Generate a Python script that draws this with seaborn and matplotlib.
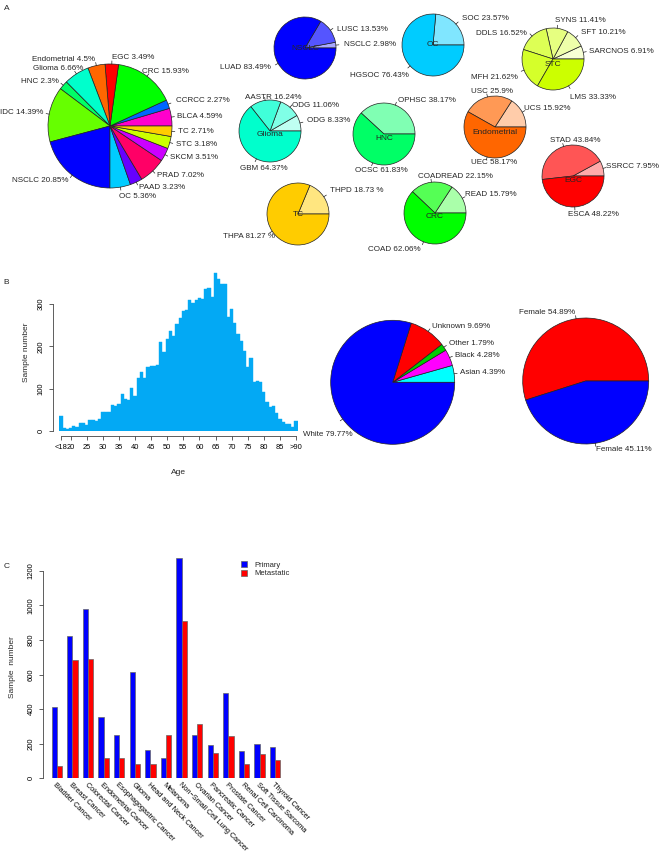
import numpy as np
import pandas as pd
import seaborn as sns
import matplotlib.pyplot as plt
import matplotlib.colors as mcolors
from matplotlib.patches import Patch

W, H = 660, 852   # figure size in pixels (dpi 100)

#######################  DATA  #######################

# panel A - overall cancer type share
main_names = ['BLCA', 'CCRCC', 'CRC', 'EGC', 'Endometrial', 'Glioma', 'HNC', 'IDC',
              'NSCLC', 'OC', 'PAAD', 'PRAD', 'SKCM', 'STC', 'TC']
main_pct = [4.59, 2.27, 15.93, 3.49, 4.5, 6.66, 2.3, 14.39, 20.85, 5.36, 3.23, 7.02, 3.51, 3.18, 2.71]
main_colors = ['#FF00CC', '#0066FF', '#00FF00', '#FF0000', '#FF6600', '#00FFCC', '#00FF66', '#66FF00',
               '#0000FF', '#00CCFF', '#6600FF', '#FF0066', '#CC00FF', '#CCFF00', '#FFCC00']

# panel A - subtypes (ascending share)
nsclc_names, nsclc_pct = ['NSCLC', 'LUSC', 'LUAD'], [2.98, 13.53, 83.49]
oc_names, oc_pct = ['SOC', 'HGSOC'], [23.57, 76.43]
stc_names = ['SARCNOS', 'SFT', 'SYNS', 'DDLS', 'MFH', 'LMS']
stc_pct = [6.91, 10.21, 11.41, 16.52, 21.62, 33.33]
glioma_names, glioma_pct = ['ODG', 'ODG', 'AASTR', 'GBM'], [8.33, 11.06, 16.24, 64.37]
hnc_names, hnc_pct = ['OPHSC', 'OCSC'], [38.17, 61.83]
endo_names, endo_pct = ['UCS', 'USC', 'UEC'], [15.92, 25.9, 58.17]
egc_names, egc_pct = ['SSRCC', 'STAD', 'ESCA'], [7.95, 43.84, 48.22]
tc_names, tc_pct = ['THPD', 'THPA'], [18.73, 81.27]
crc_names, crc_pct = ['READ', 'COADREAD', 'COAD'], [15.79, 22.15, 62.06]

# panel B - age histogram
age_bins = ['<18'] + [str(a) for a in range(18, 90)] + ['>90']
age_counts = [35, 8, 5, 8, 11, 9, 19, 19, 15, 25, 25, 24, 29, 46, 44, 45, 62, 59, 63, 88,
              75, 74, 102, 82, 126, 139, 125, 151, 154, 153, 156, 209, 187, 217, 237, 225, 252, 266, 284, 286,
              310, 302, 310, 315, 311, 334, 338, 317, 372, 358, 346, 347, 268, 289, 256, 228, 212, 189, 151, 172,
              116, 118, 116, 92, 69, 57, 60, 42, 28, 21, 16, 17, 9, 24]
age_ticks = ['<18', '20', '25', '30', '35', '40', '45', '50', '55', '60', '65', '70', '75', '80', '85', '>90']

# panel B - race and sex
race_names = ['Asian', 'Black', 'Other', 'Unknown', 'White']
race_pct = [4.39, 4.28, 1.79, 9.69, 79.77]
race_colors = ['#00FFFF', '#FF00FF', '#00CD00', '#FF0000', '#0000FF']
sex_names = ['Female', 'Female']
sex_pct = [54.89, 45.11]
sex_colors = ['#FF0000', '#0000FF']

# panel C - primary vs metastatic
cancers = ['Bladder Cancer', 'Breast Cancer', 'Colorectal Cancer', 'Endometrial Cancer',
           'Esophagogastric Cancer', 'Glioma', 'Head and Neck Cancer', 'Melanoma',
           'Non\u2212Small Cell Lung Cancer', 'Ovarian Cancer', 'Pancreatic Cancer', 'Prostate Cancer',
           'Renal Cell Carcinoma', 'Soft Tissue Sarcoma', 'Thyroid Cancer']
primary = [410, 823, 981, 355, 252, 617, 162, 119, 1275, 249, 195, 495, 156, 198, 181]
metastatic = [71, 684, 690, 118, 116, 81, 81, 250, 911, 314, 148, 243, 83, 139, 104]

HIST_BLUE = '#03A9F4'
EDGE = '#222222'


#######################  HELPERS  #######################


def ramp(base: str, n: int) -> list:
    # white -> base colour in n+1 steps, white dropped (lightest first)
    rgb = np.array(mcolors.to_rgb(base))
    return [tuple(1 - (1 - rgb) * k / n) for k in range(1, n + 1)]


def draw_pie(ax, cx, cy, r, pct, labels, colors, lab_r=1.1, line_r=1.05, fs=5.8, nudge=None):
    # R-style pie: starts at 3 o'clock, counter clockwise, labels with a short tick
    # nudge: {slice index: (dx, dy)} in pixels, dy pointing down
    Y = H - cy
    ax.pie(pct, colors=colors, radius=r, center=(cx, Y), startangle=0, counterclock=True,
           wedgeprops=dict(edgecolor=EDGE, linewidth=0.5), normalize=True)
    frac = np.cumsum([0] + list(pct)) / sum(pct)
    for i, lab in enumerate(labels):
        a = np.pi * (frac[i] + frac[i + 1])
        c, s = np.cos(a), np.sin(a)
        ax.plot([cx + r * c, cx + line_r * r * c], [Y + r * s, Y + line_r * r * s], color=EDGE, lw=0.5)
        dx, dy = (nudge or {}).get(i, (0, 0))
        ax.text(cx + lab_r * r * c + dx, Y + lab_r * r * s - dy, lab,
                ha='left' if c >= 0 else 'right', va='center', fontsize=fs)


def pct_labels(names, pct, sep='%'):
    return [f'{n} {p}{sep}' for n, p in zip(names, pct)]


#######################  FIGURE  #######################

sns.set_style('ticks')
plt.rcParams['font.family'] = ['Liberation Sans', 'DejaVu Sans']
plt.rcParams['axes.linewidth'] = 0.6
plt.rcParams['axes.edgecolor'] = '#444444'
plt.rcParams['xtick.color'] = '#444444'
plt.rcParams['ytick.color'] = '#444444'
plt.rcParams['xtick.labelcolor'] = 'black'
plt.rcParams['ytick.labelcolor'] = 'black'

fig = plt.figure(figsize=(W / 100, H / 100), dpi=100)

# ---- panel B: age histogram ----
ax_h = fig.add_axes([59.4 / W, (H - 431) / H, 238.2 / W, (431 - 270) / H])
sns.barplot(x=age_bins, y=age_counts, color=HIST_BLUE, width=1.0, saturation=1,
            linewidth=0.3, edgecolor=HIST_BLUE, errorbar=None, ax=ax_h)
ax_h.set_xlim(-0.5, 73.5)
ax_h.set_ylim(0, 380)
ax_h.spines[['top', 'right']].set_visible(False)
ax_h.spines['left'].set_position(('outward', 4.6))
ax_h.spines['left'].set_bounds(0, 300)
ax_h.spines['bottom'].set_position(('outward', 3.6))
ax_h.spines['bottom'].set_bounds(0, 73)
ax_h.set_xticks([age_bins.index(t) for t in age_ticks])
ax_h.set_xticklabels(age_ticks, fontsize=5.4)
ax_h.set_yticks([0, 100, 200, 300])
ax_h.set_yticklabels(['0', '100', '200', '300'], fontsize=5.5, rotation=90, va='center')
ax_h.tick_params(length=3, width=0.6, pad=3)
ax_h.set_xlabel('')
ax_h.set_ylabel('')
fig.text(178 / W, 1 - 472 / H, 'Age', ha='center', va='center', fontsize=6)
fig.text(27 / W, 1 - 352 / H, 'Sample number', ha='center', va='center', rotation=90, fontsize=6)

# ---- panel C: primary vs metastatic ----
df = pd.DataFrame({
    'cancer': cancers * 2,
    'count': primary + metastatic,
    'type': ['Primary'] * len(cancers) + ['Metastatic'] * len(cancers),
})
pal = {'Primary': '#0000FF', 'Metastatic': '#FF0000'}
ax_c = fig.add_axes([45.2 / W, (H - 778.3) / H, (281.5 - 45.2) / W, (778.3 - 555) / H])
sns.barplot(data=df, x='cancer', y='count', hue='type', palette=pal, width=0.667, saturation=1,
            edgecolor='#666666', linewidth=0.5, errorbar=None, legend=False, ax=ax_c)
ax_c.set_xlim(-0.75, 14.4)
ax_c.set_ylim(0, (778.3 - 555) / 0.173)
ax_c.spines[['top', 'right', 'bottom']].set_visible(False)
ax_c.spines['left'].set_position(('outward', 1.4))
ax_c.spines['left'].set_bounds(0, 1200)
ax_c.set_yticks(range(0, 1201, 200))
ax_c.set_yticklabels([str(v) for v in range(0, 1201, 200)], fontsize=5.5, rotation=90, va='center')
ax_c.tick_params(axis='y', length=3, width=0.6, pad=3)
ax_c.set_xticks(range(len(cancers)))
ax_c.set_xticklabels(cancers, rotation=-45, ha='left', va='top', rotation_mode='anchor', fontsize=5.3)
ax_c.tick_params(axis='x', length=0, pad=2)
ax_c.set_xlabel('')
ax_c.set_ylabel('')
fig.text(13 / W, 1 - 667 / H, 'Sample  number', ha='center', va='center', rotation=90, fontsize=6)
handles = [Patch(facecolor=pal[k], edgecolor='#666666', linewidth=0.5) for k in pal]
ax_c.legend(handles, list(pal), loc='upper left', bbox_to_anchor=(241 / W, 1 - 561 / H),
            bbox_transform=fig.transFigure, frameon=False, fontsize=5.5, handlelength=0.8,
            handleheight=0.8, handletextpad=0.9, labelspacing=0.15, borderpad=0, borderaxespad=0)

# ---- pies drawn on a full figure overlay in pixel units ----
ax_p = fig.add_axes([0, 0, 1, 1])

draw_pie(ax_p, 110, 126, 62, main_pct, pct_labels(main_names, main_pct), main_colors,
         nudge={1: (2, -1), 2: (-9, 0), 5: (10, 0), 9: (-2, 3)})

# title, centre x, centre y, title drop, names, shares, % sep, base colour, label nudges
sub_pies = [
    ('NSCLC', 305, 48, 0, nsclc_names, nsclc_pct, '%', '#0000FF', {1: (0, 4)}),
    ('OC', 433, 45, 0, oc_names, oc_pct, '%', '#00CCFF', {1: (4, 4)}),
    ('STC', 553, 59, 5, stc_names, stc_pct, '%', '#CCFF00',
     {0: (-2, 1), 2: (-3, 0), 3: (0, 3), 4: (1, 5), 5: (-2, 5)}),
    ('Glioma', 270, 131, 3, glioma_names, glioma_pct, '%', '#00FFCC',
     {1: (-3, 4), 2: (38, 5), 3: (35, 3)}),
    ('HNC', 384, 134, 5, hnc_names, hnc_pct, '%', '#00FF66', {0: (0, 3), 1: (38, 0)}),
    ('Endometrial', 495, 127, 5, endo_names, endo_pct, '%', '#FF6600',
     {0: (-5, 0), 1: (27, 2), 2: (32, -2)}),
    ('EGC', 573, 176, 5, egc_names, egc_pct, '%', '#FF0000', {0: (-5, 0), 1: (39, 1), 2: (-7, 0)}),
    ('TC', 298, 214, 0, tc_names, tc_pct, ' %', '#FFCC00', {0: (0, -2), 1: (9, 1)}),
    ('CRC', 435, 213, 4, crc_names, crc_pct, '%', '#00FF00', {0: (-4, 0), 1: (62, 2)}),
]
for title, cx, cy, dy, names, pct, sep, base, nud in sub_pies:
    draw_pie(ax_p, cx, cy, 31, pct, pct_labels(names, pct, sep), ramp(base, len(pct)),
             lab_r=1.25, line_r=1.1, nudge=nud)
    ax_p.text(cx, H - cy - dy, title, ha='center', va='center', fontsize=6)

draw_pie(ax_p, 392.7, 382.3, 62, race_pct, pct_labels(race_names, race_pct), race_colors,
         nudge={4: (14.5, 11.5)})
draw_pie(ax_p, 585.7, 381, 63, sex_pct, pct_labels(sex_names, sex_pct), sex_colors)

for letter, x, y in [('A', 7, 8), ('B', 6, 283), ('C', 7, 567)]:
    ax_p.text(x, H - y, letter, ha='center', va='center', fontsize=6)

ax_p.set_xlim(0, W)
ax_p.set_ylim(0, H)
ax_p.axis('off')

fig.savefig('out.png', dpi=100)
